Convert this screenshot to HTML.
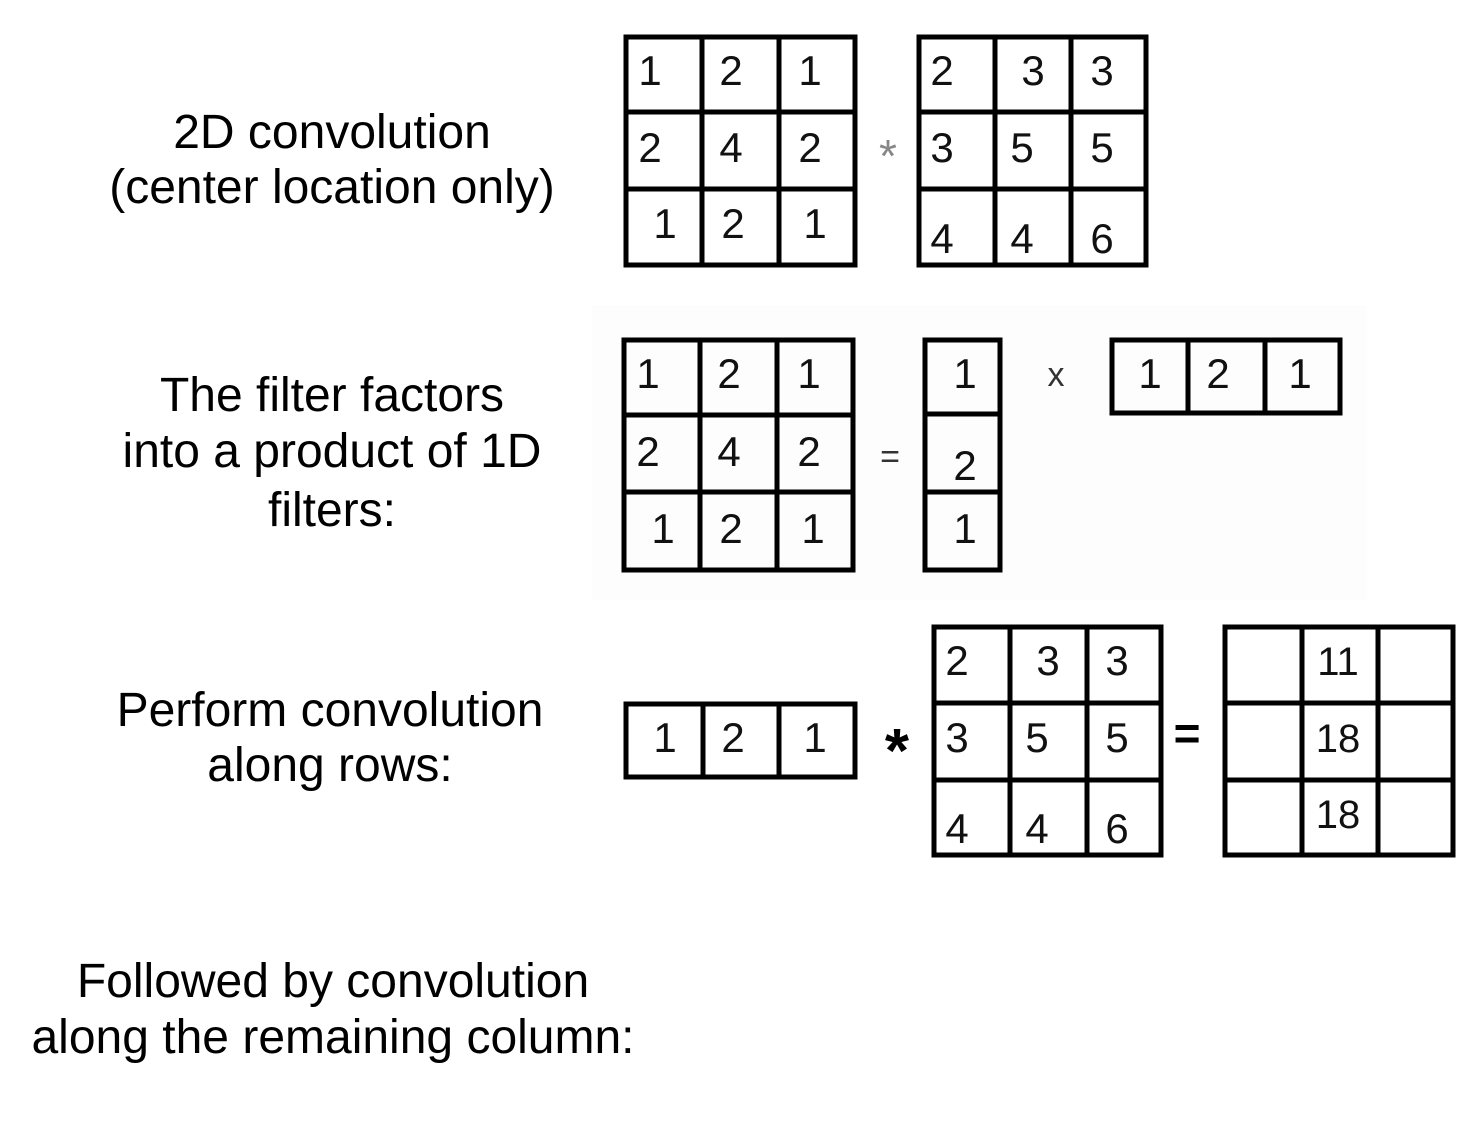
<!DOCTYPE html>
<html><head><meta charset="utf-8"><style>
html,body{margin:0;padding:0;background:#fff;}
svg{display:block;}
.t{font-family:"Liberation Sans",Arial,sans-serif;font-size:48px;fill:#000;text-anchor:middle;}
.d{font-family:"Liberation Sans",Arial,sans-serif;font-size:42px;fill:#111;text-anchor:middle;}
.g{stroke:#000;stroke-width:5;fill:none;}
</style></head><body>
<svg width="1478" height="1124" viewBox="0 0 1478 1124" xmlns="http://www.w3.org/2000/svg">
<rect x="0" y="0" width="1478" height="1124" fill="#fff"/>
<rect x="592" y="305" width="775" height="295" fill="#fdfdfd"/>
<!-- labels -->
<text class="t" x="332" y="148">2D convolution</text>
<text class="t" x="332" y="203">(center location only)</text>
<text class="t" x="332" y="411">The filter factors</text>
<text class="t" x="332" y="467">into a product of 1D</text>
<text class="t" x="332" y="526">filters:</text>
<text class="t" x="330" y="726">Perform convolution</text>
<text class="t" x="330" y="781">along rows:</text>
<text class="t" x="333" y="997">Followed by convolution</text>
<text class="t" x="333" y="1053">along the remaining column:</text>

<!-- Grid A -->
<g class="g">
<rect x="626" y="37" width="229" height="228"/>
<line x1="702" y1="37" x2="702" y2="265"/><line x1="779" y1="37" x2="779" y2="265"/>
<line x1="626" y1="112" x2="855" y2="112"/><line x1="626" y1="189" x2="855" y2="189"/>
</g>
<g transform="translate(0,0)">
<text class="d" x="650" y="85">1</text><text class="d" x="731" y="85">2</text><text class="d" x="810" y="85">1</text>
<text class="d" x="650" y="162">2</text><text class="d" x="731" y="162">4</text><text class="d" x="810" y="162">2</text>
<text class="d" x="665" y="238">1</text><text class="d" x="733" y="238">2</text><text class="d" x="815" y="238">1</text>
</g>
<text x="888" y="172" style="font-family:'Liberation Sans',sans-serif;font-size:46px;fill:#888;text-anchor:middle">*</text>

<!-- Grid B -->
<g class="g">
<rect x="919" y="37" width="227" height="228"/>
<line x1="995" y1="37" x2="995" y2="265"/><line x1="1071" y1="37" x2="1071" y2="265"/>
<line x1="919" y1="112" x2="1146" y2="112"/><line x1="919" y1="189" x2="1146" y2="189"/>
</g>
<text class="d" x="942" y="85">2</text><text class="d" x="1033" y="85">3</text><text class="d" x="1102" y="85">3</text>
<text class="d" x="942" y="162">3</text><text class="d" x="1022" y="162">5</text><text class="d" x="1102" y="162">5</text>
<text class="d" x="942" y="253">4</text><text class="d" x="1022" y="253">4</text><text class="d" x="1102" y="253">6</text>

<!-- Grid C -->
<g class="g">
<rect x="624" y="340" width="229" height="230"/>
<line x1="700" y1="340" x2="700" y2="570"/><line x1="777" y1="340" x2="777" y2="570"/>
<line x1="624" y1="415" x2="853" y2="415"/><line x1="624" y1="492" x2="853" y2="492"/>
</g>
<text class="d" x="648" y="388">1</text><text class="d" x="729" y="388">2</text><text class="d" x="809" y="388">1</text>
<text class="d" x="648" y="466">2</text><text class="d" x="729" y="466">4</text><text class="d" x="809" y="466">2</text>
<text class="d" x="663" y="543">1</text><text class="d" x="731" y="543">2</text><text class="d" x="813" y="543">1</text>
<text x="890" y="468" style="font-family:'Liberation Sans',sans-serif;font-size:34px;fill:#333;text-anchor:middle">=</text>

<!-- Column vector -->
<g class="g">
<rect x="925" y="340" width="75" height="230"/>
<line x1="925" y1="414" x2="1000" y2="414"/><line x1="925" y1="492" x2="1000" y2="492"/>
</g>
<text class="d" x="965" y="388">1</text><text class="d" x="965" y="480">2</text><text class="d" x="965" y="543">1</text>
<text x="1056" y="386" style="font-family:'Liberation Sans',sans-serif;font-size:34px;fill:#333;text-anchor:middle">x</text>

<!-- Row vector 1 -->
<g class="g">
<rect x="1112" y="340" width="228" height="73"/>
<line x1="1188" y1="340" x2="1188" y2="413"/><line x1="1265" y1="340" x2="1265" y2="413"/>
</g>
<text class="d" x="1150" y="388">1</text><text class="d" x="1218" y="388">2</text><text class="d" x="1300" y="388">1</text>

<!-- Row vector 2 -->
<g class="g">
<rect x="626" y="704" width="229" height="73"/>
<line x1="703" y1="704" x2="703" y2="777"/><line x1="779" y1="704" x2="779" y2="777"/>
</g>
<text class="d" x="665" y="752">1</text><text class="d" x="733" y="752">2</text><text class="d" x="815" y="752">1</text>
<text x="897" y="772" style="font-family:'Liberation Sans',sans-serif;font-size:62px;font-weight:bold;fill:#000;text-anchor:middle">*</text>

<!-- Grid D -->
<g class="g">
<rect x="934" y="627" width="227" height="228"/>
<line x1="1010" y1="627" x2="1010" y2="855"/><line x1="1087" y1="627" x2="1087" y2="855"/>
<line x1="934" y1="703" x2="1161" y2="703"/><line x1="934" y1="780" x2="1161" y2="780"/>
</g>
<text class="d" x="957" y="675">2</text><text class="d" x="1048" y="675">3</text><text class="d" x="1117" y="675">3</text>
<text class="d" x="957" y="752">3</text><text class="d" x="1037" y="752">5</text><text class="d" x="1117" y="752">5</text>
<text class="d" x="957" y="843">4</text><text class="d" x="1037" y="843">4</text><text class="d" x="1117" y="843">6</text>
<text x="1187" y="749" style="font-family:'Liberation Sans',sans-serif;font-size:46px;font-weight:bold;fill:#000;text-anchor:middle">=</text>

<!-- Grid E -->
<g class="g">
<rect x="1225" y="627" width="228" height="228"/>
<line x1="1302" y1="627" x2="1302" y2="855"/><line x1="1378" y1="627" x2="1378" y2="855"/>
<line x1="1225" y1="703" x2="1453" y2="703"/><line x1="1225" y1="780" x2="1453" y2="780"/>
</g>
<text class="d" x="1338" y="675" style="font-size:40px">11</text>
<text class="d" x="1338" y="752" style="font-size:40px">18</text>
<text class="d" x="1338" y="828" style="font-size:40px">18</text>
</svg>
</body></html>
